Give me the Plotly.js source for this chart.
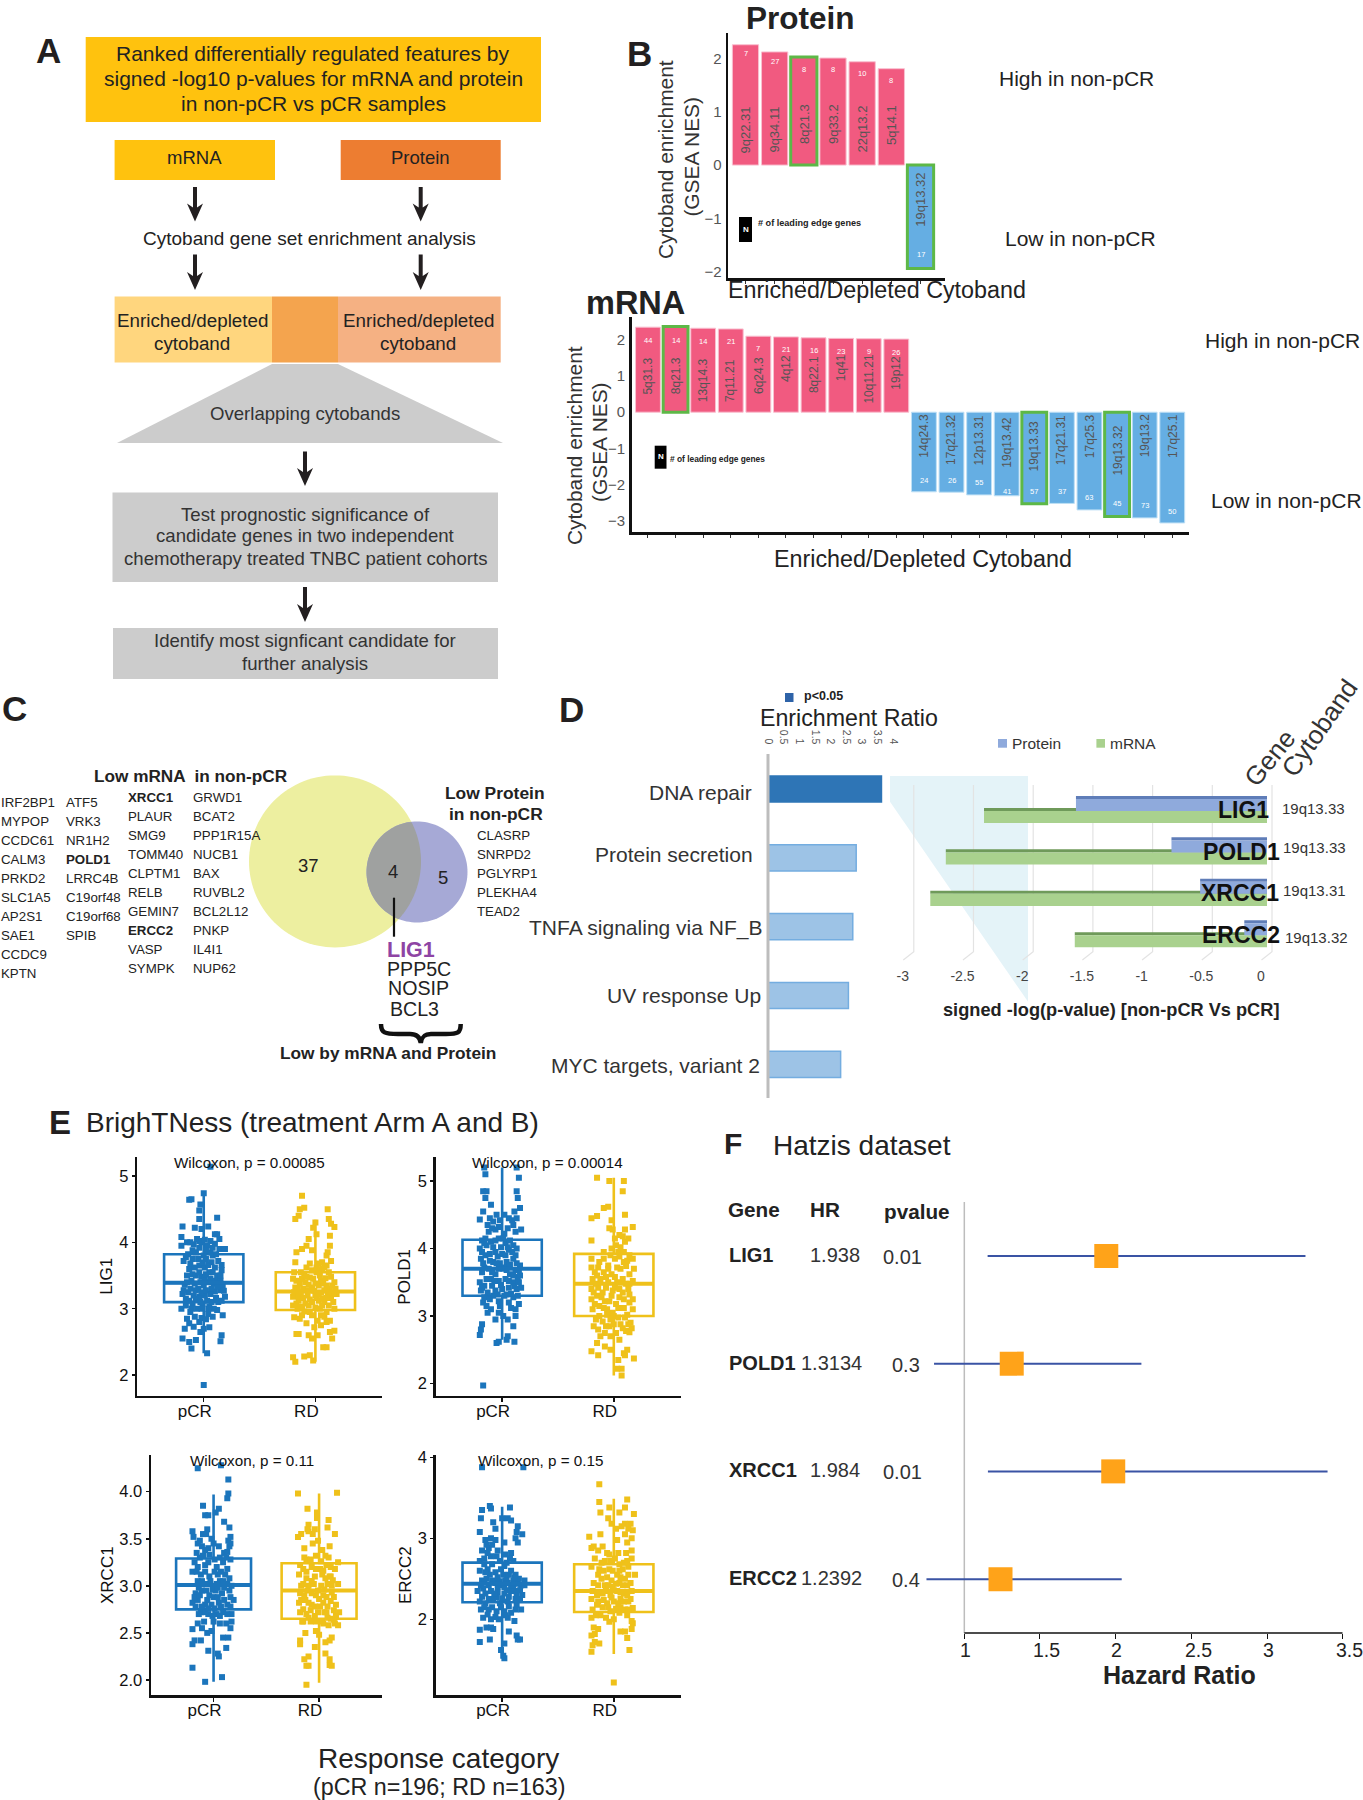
<!DOCTYPE html>
<html><head><meta charset="utf-8">
<script src="https://cdn.plot.ly/plotly-3.0.1.min.js"></script>
<style>html,body{margin:0;padding:0;background:#fff}</style></head>
<body><div id="chart" style="width:1363px;height:1800px"></div>
<script>
// ---------- Panel B data ----------
const proteinBands=["9q22.31","9q34.11","8q21.3","9q33.2","22q13.2","5q14.1","19q13.32"];
const proteinNES=[2.26,2.125,2.03,2.01,1.94,1.81,-1.94];
const proteinEdge=[7,27,8,8,10,8,17];
const proteinLabelY=[0.66,0.66,0.77,0.77,0.67,0.76,-0.66];
const proteinCountY=[2.09,1.95,1.79,1.79,1.72,1.59,-1.67];
const proteinHighlight=["8q21.3","19q13.32"];
const mrnaBands=["5q31.3","8q21.3","13q14.3","7q11.21","6q24.3","4q12","8q22.1","1q41","10q11.21","19p12","14q24.3","17q21.32","12p13.31","19q13.42","19q13.33","17q21.31","17q25.3","19q13.32","19q13.2","17q25.1"];
const mrnaNES=[2.35,2.37,2.32,2.30,2.10,2.08,2.055,2.04,2.03,2.02,-2.2,-2.21,-2.285,-2.31,-2.53,-2.52,-2.70,-2.885,-2.92,-3.06];
const mrnaEdge=[44,14,14,21,7,21,16,23,9,26,24,26,55,41,57,37,63,45,73,50];
const mrnaLabelY=[1.01,1.01,0.89,0.88,1.01,1.22,1.04,1.22,0.92,1.10,-0.65,-0.78,-0.78,-0.85,-0.94,-0.78,-0.65,-1.06,-0.65,-0.65];
const mrnaCountY=[1.98,1.98,1.96,1.95,1.75,1.72,1.71,1.68,1.68,1.66,-1.88,-1.88,-1.95,-2.18,-2.18,-2.18,-2.37,-2.53,-2.59,-2.74];
const mrnaHighlight=["8q21.3","19q13.33","19q13.32"];
// ---------- Panel C data ----------
const geneCol1=["IRF2BP1","MYPOP","CCDC61","CALM3","PRKD2","SLC1A5","AP2S1","SAE1","CCDC9","KPTN"];
const geneCol2=["ATF5","VRK3","NR1H2","<b>POLD1</b>","LRRC4B","C19orf48","C19orf68","SPIB"];
const geneCol3=["<b>XRCC1</b>","PLAUR","SMG9","TOMM40","CLPTM1","RELB","GEMIN7","<b>ERCC2</b>","VASP","SYMPK"];
const geneCol4=["GRWD1","BCAT2","PPP1R15A","NUCB1","BAX","RUVBL2","BCL2L12","PNKP","IL4I1","NUP62"];
const geneColProtein=["CLASRP","SNRPD2","PGLYRP1","PLEKHA4","TEAD2"];
// ---------- Panel D data ----------
const pathways=["DNA repair","Protein secretion","TNFA signaling via NF_B","UV response Up","MYC targets, variant 2"];
const enrichRatio=[3.63,2.82,2.71,2.57,2.32];
const genesD=["LIG1","POLD1","XRCC1","ERCC2"];
const cytobandsD=["19q13.33","19q13.33","19q13.31","19q13.32"];
const proteinLogP=[-1.6,-0.80,-0.56,-0.19];
const mrnaLogP=[-2.37,-2.69,-2.82,-1.61];
// ---------- Panel E data: [jitter offset, expression] ----------
const lig1PCR=[[.06,5.14],[0,1.85],[.03,2.33],[-.19,2.55],[-.13,2.5],[-.07,2.53],[-.11,2.4],[.16,2.6],[.15,2.51],[-.17,2.7],[-.09,2.73],[0,2.7],[.05,2.72],[-.03,2.65],[.17,2.9],[-.15,2.85],[-.12,2.95],[-.08,2.88],[-.02,2.86],[.02,2.84],[.12,2.98],[.09,3.0],[.05,3.03],[-.2,3.0],[-.16,3.05],[-.13,3.12],[-.06,3.0],[-.01,3.08],[.03,3.12],[.13,3.1],[.19,3.18],[-.19,3.22],[-.14,3.25],[-.09,3.2],[-.04,3.18],[.06,3.22],[.1,3.26],[.15,3.28],[-.17,3.36],[-.11,3.42],[-.05,3.3],[0,3.35],[.04,3.4],[.09,3.38],[.17,3.35],[-.07,3.5],[-.02,3.48],[.05,3.55],[.12,3.5],[.16,3.58],[-.13,3.6],[-.18,3.72],[-.1,3.75],[-.04,3.65],[.01,3.62],[.07,3.7],[.13,3.72],[-.14,3.82],[-.07,3.85],[0,3.8],[.06,3.85],[.14,3.9],[.19,3.9],[-.2,3.95],[-.15,4.0],[-.09,3.97],[-.04,4.02],[.03,3.95],[.1,3.98],[.14,4.05],[-.2,4.08],[-.06,4.05],[-.02,4.0],[.1,4.12],[.12,4.12],[-.19,4.24],[-.08,4.22],[-.02,4.2],[.04,4.24],[.12,4.37],[-.04,4.35],[-.04,4.48],[-.03,4.57],[-.13,4.64],[-.11,4.65],[0,4.74]];
const lig1PCRCore=[[-.16,3.15],[-.1,3.08],[-.07,3.15],[-.02,3.0],[.01,3.2],[.07,3.1],[.11,3.16],[.16,3.12],[-.18,3.28],[-.12,3.3],[-.07,3.28],[-.02,3.25],[.02,3.28],[.07,3.3],[.12,3.33],[.18,3.27],[-.15,3.4],[-.08,3.38],[-.03,3.4],[.01,3.45],[.06,3.45],[.11,3.42],[.15,3.42],[-.15,3.5],[-.1,3.52],[-.04,3.55],[.02,3.52],[.08,3.55],[.15,3.5],[-.08,3.62],[-.01,3.7],[.04,3.66],[.1,3.62],[.16,3.66],[-.16,3.78],[-.12,3.68],[-.05,3.75],[.02,3.75],[.08,3.8],[.11,3.82],[-.1,3.88],[-.04,3.92],[.02,3.88],[.08,3.92],[-.12,4.0],[.01,4.04],[.06,4.02],[-.03,3.1],[.04,3.0],[-.11,3.0],[-.04,2.8],[.08,2.88],[-.13,2.78],[.04,2.92]];
const lig1RD=[[-.2,2.27],[-.18,2.2],[-.1,2.28],[-.05,2.3],[-.02,2.22],[.07,2.42],[.1,2.42],[-.17,2.62],[-.15,2.62],[-.06,2.6],[-.03,2.55],[.02,2.6],[.15,2.55],[.17,2.67],[-.19,2.87],[-.14,2.85],[-.08,2.78],[-.01,2.72],[.05,2.75],[.1,2.8],[.13,2.65],[-.2,3.05],[-.16,3.0],[-.1,2.96],[-.03,2.9],[.04,3.0],[.1,2.95],[.17,3.0],[-.2,3.18],[-.15,3.12],[-.09,3.08],[-.03,3.1],[.03,3.12],[.08,3.1],[.14,3.16],[-.18,3.32],[-.13,3.25],[-.07,3.2],[0,3.2],[.05,3.24],[.11,3.22],[.19,3.22],[-.2,3.45],[-.14,3.38],[-.09,3.4],[-.03,3.32],[.03,3.35],[.07,3.38],[.13,3.3],[.17,3.4],[-.19,3.55],[-.1,3.5],[-.05,3.47],[.01,3.55],[.06,3.6],[.12,3.55],[-.18,3.7],[-.08,3.62],[.03,3.68],[.1,3.65],[.14,3.72],[-.17,3.85],[-.12,3.9],[-.08,3.95],[-.03,3.88],[.11,3.85],[.13,3.95],[.1,3.8],[-.06,4.05],[.01,4.12],[.13,4.1],[-.02,4.22],[0,4.3],[.14,4.28],[.17,4.23],[.12,4.35],[-.18,4.35],[-.15,4.4],[-.14,4.5],[.11,4.5],[-.1,4.52],[-.12,4.7]];
const lig1RDCore=[[-.17,3.08],[-.12,3.03],[-.06,3.05],[0,3.02],[.06,3.05],[.12,3.05],[.16,3.1],[-.19,3.25],[-.15,3.2],[-.11,3.16],[-.05,3.14],[.01,3.16],[.06,3.15],[.1,3.16],[.16,3.22],[-.16,3.3],[-.11,3.3],[-.06,3.28],[-.01,3.27],[.03,3.22],[.08,3.28],[.12,3.25],[.18,3.3],[-.17,3.42],[-.12,3.45],[-.06,3.36],[0,3.38],[.05,3.42],[.1,3.35],[.15,3.35],[-.08,3.48],[-.02,3.45],[.04,3.5],[.09,3.46],[.14,3.48],[-.13,3.55],[-.03,3.58],[.03,3.58],[.08,3.62],[-.05,3.68],[.06,3.7],[.01,3.62],[.05,2.9],[-.05,2.95],[.13,2.82],[.08,2.88],[-.12,2.9],[.02,2.82]];
const pold1PCR=[[-.17,1.97],[-.2,2.72],[-.19,2.8],[-.18,2.88],[-.05,2.6],[-.03,2.62],[.04,2.65],[.11,2.62],[.05,2.7],[.1,2.85],[.05,2.95],[.12,3.0],[-.06,2.95],[-.1,3.1],[-.13,3.05],[-.03,3.05],[.01,3.0],[.15,3.18],[.12,3.1],[-.17,3.2],[-.08,3.3],[-.03,3.22],[.06,3.2],[.1,3.28],[-.19,3.38],[-.13,3.35],[-.06,3.38],[0,3.4],[.04,3.32],[.13,3.4],[-.2,3.5],[-.16,3.45],[-.1,3.55],[-.03,3.52],[.03,3.55],[.1,3.5],[.17,3.42],[-.18,3.65],[-.12,3.7],[-.06,3.62],[.01,3.7],[.07,3.62],[.12,3.68],[.16,3.6],[-.19,3.85],[-.15,3.9],[-.08,3.8],[-.02,3.78],[.04,3.8],[.1,3.85],[.16,3.75],[-.2,4.0],[-.14,4.05],[-.06,3.95],[0,3.92],[.06,3.98],[.12,3.9],[-.18,4.12],[-.1,4.1],[-.03,4.15],[.03,4.08],[.1,4.05],[-.12,4.25],[-.06,4.28],[.02,4.22],[.12,4.25],[.17,4.28],[-.2,4.43],[-.17,4.55],[-.13,4.35],[-.08,4.4],[-.02,4.42],[.06,4.45],[.13,4.45],[.16,4.6],[-.15,4.75],[-.1,4.65],[.11,4.55],[-.17,4.85],[-.14,4.85],[.13,4.85],[.14,4.75],[-.15,5.1],[.15,5.05],[-.16,5.2],[.13,5.2]];
const pold1PCRCore=[[-.16,3.28],[-.11,3.25],[-.04,3.32],[.02,3.3],[.08,3.33],[.14,3.3],[-.18,3.42],[-.09,3.45],[-.01,3.46],[.06,3.42],[.11,3.44],[.15,3.5],[-.14,3.55],[-.07,3.52],[.06,3.52],[.14,3.58],[-.16,3.72],[-.09,3.65],[-.03,3.7],[.04,3.68],[.1,3.6],[.15,3.68],[-.17,3.78],[-.11,3.82],[-.05,3.78],[.02,3.72],[.07,3.76],[.13,3.78],[-.18,3.95],[-.11,3.92],[-.04,3.88],[.03,3.9],[.09,3.95],[-.16,4.08],[-.08,4.02],[-.01,4.02],[.05,4.02],[.13,4.0],[-.15,4.15],[-.06,4.12],[.01,4.15],[.07,4.12],[-.09,4.3],[-.03,4.32],[.05,4.3],[.1,4.35],[-.11,4.45],[-.05,4.5],[.02,4.5],[.09,4.42],[-.02,3.15],[.08,3.12],[-.14,3.15]];
const pold1RD=[[.07,2.12],[.07,2.22],[.03,2.22],[-.2,2.48],[-.14,2.42],[-.08,2.55],[-.03,2.5],[.09,2.45],[.12,2.5],[.18,2.37],[.04,2.35],[-.15,2.6],[-.03,2.7],[.02,2.75],[.1,2.42],[-.18,2.85],[-.14,2.8],[-.08,2.75],[-.04,2.85],[.05,2.65],[.11,2.78],[.16,2.82],[-.16,2.95],[-.1,2.92],[-.06,3.02],[0,3.0],[.06,2.88],[.1,2.98],[.15,2.9],[-.19,3.1],[-.13,3.15],[-.06,3.1],[-.01,3.05],[.04,3.12],[.17,3.1],[-.2,3.25],[-.15,3.3],[-.08,3.22],[-.02,3.3],[.05,3.28],[.17,3.25],[-.2,3.4],[-.14,3.42],[-.1,3.35],[.01,3.42],[.08,3.35],[.13,3.4],[-.19,3.55],[-.12,3.55],[-.05,3.5],[.03,3.5],[.11,3.48],[.17,3.52],[-.2,3.72],[-.17,3.65],[-.09,3.65],[-.02,3.62],[.06,3.7],[.18,3.7],[-.2,3.85],[-.13,3.8],[-.05,3.75],[.01,3.85],[.09,3.8],[.14,3.9],[.04,3.95],[-.09,3.95],[-.02,4.0],[.06,4.02],[.1,4.1],[-.2,4.12],[.01,4.15],[.05,4.2],[.13,4.15],[.1,4.28],[.17,4.32],[-.04,4.3],[-.02,4.42],[-.2,4.45],[-.15,4.48],[-.05,4.62],[-.09,4.6],[.1,4.5],[-.15,5.05],[-.04,5.0],[.09,5.0],[.08,4.85]];
const pold1RDCore=[[-.12,2.7],[-.07,2.85],[0,2.88],[.08,2.82],[.14,2.76],[.13,2.88],[-.13,3.0],[-.03,2.95],[.04,2.98],[.12,3.02],[-.17,3.18],[-.09,3.12],[.02,3.18],[.09,3.12],[.14,3.2],[-.18,3.35],[-.11,3.28],[-.04,3.22],[.09,3.25],[.14,3.32],[-.16,3.48],[-.07,3.42],[-.01,3.38],[.05,3.4],[.14,3.48],[-.15,3.6],[-.07,3.58],[.01,3.58],[.08,3.55],[.14,3.62],[-.14,3.72],[-.05,3.7],[.03,3.72],[.11,3.74],[-.09,3.85],[-.03,3.9],[.05,3.88],[.12,3.82],[.17,3.85],[.02,4.05],[.09,3.95],[.08,4.18],[-.01,4.28]];
const xrcc1PCR=[[-.2,2.13],[-.08,1.98],[.08,2.03],[.05,2.25],[.04,2.28],[-.05,2.31],[.12,2.34],[-.2,2.38],[-.18,2.42],[-.12,2.42],[-.2,2.54],[-.11,2.55],[-.06,2.5],[-.02,2.52],[.09,2.45],[.14,2.45],[.16,2.55],[-.15,2.6],[-.09,2.62],[0,2.62],[.06,2.6],[.12,2.6],[.17,2.62],[-.12,2.72],[-.05,2.7],[.03,2.7],[.09,2.72],[.17,2.7],[-.2,2.82],[-.15,2.85],[-.08,2.8],[-.02,2.8],[.05,2.82],[.13,2.8],[.19,2.85],[-.17,2.92],[-.11,2.95],[-.04,2.9],[.02,2.95],[.08,2.92],[.15,2.95],[-.15,3.05],[-.07,3.02],[.01,3.0],[.06,3.05],[.13,3.02],[-.2,3.15],[-.12,3.12],[-.04,3.1],[.04,3.12],[.11,3.12],[-.18,3.25],[-.13,3.3],[-.08,3.22],[.03,3.2],[.09,3.25],[.16,3.28],[-.16,3.35],[-.11,3.42],[-.05,3.4],[0,3.45],[.05,3.42],[.1,3.35],[-.19,3.52],[-.15,3.45],[-.1,3.55],[-.06,3.6],[.14,3.48],[.16,3.52],[.15,3.62],[-.2,3.58],[-.07,3.55],[.1,3.68],[-.08,3.75],[-.05,3.75],[.02,3.78],[.05,3.82],[-.1,3.85],[.13,3.93],[.14,3.98],[.14,4.13],[-.15,4.25],[.07,4.28]];
const xrcc1PCRCore=[[-.14,2.7],[-.08,2.72],[-.01,2.68],[.06,2.68],[.13,2.7],[-.17,2.78],[-.11,2.78],[-.05,2.76],[.01,2.76],[.07,2.78],[.16,2.78],[-.18,2.88],[-.13,2.9],[-.06,2.85],[0,2.88],[.04,2.88],[.1,2.85],[.16,2.88],[-.14,2.98],[-.07,2.95],[-.01,2.96],[.04,2.98],[.1,2.98],[.17,3.0],[-.11,3.05],[-.03,3.05],[.03,3.02],[.09,3.05],[.15,3.08],[-.16,3.15],[-.08,3.15],[.01,3.15],[.07,3.15],[.13,3.18],[-.15,3.2],[-.05,3.25],[.01,3.28],[.06,3.3],[.12,3.3],[-.1,3.32],[-.04,3.33],[.13,3.36],[.15,3.42],[-.13,3.48],[-.08,3.38],[-.02,3.5],[.16,3.45]];
const xrcc1RD=[[-.12,1.95],[-.1,2.15],[-.14,2.22],[-.1,2.25],[-.12,2.15],[.1,2.16],[.1,2.22],[.06,2.28],[.12,2.15],[-.18,2.38],[-.18,2.42],[-.04,2.35],[.06,2.4],[.1,2.42],[.12,2.45],[-.13,2.5],[-.03,2.52],[0,2.48],[.04,2.6],[-.15,2.62],[-.08,2.62],[.09,2.58],[.15,2.6],[.18,2.58],[-.18,2.72],[-.12,2.7],[-.04,2.68],[.05,2.72],[.11,2.65],[.19,2.72],[-.19,2.82],[-.13,2.85],[-.07,2.8],[.01,2.78],[.08,2.78],[.16,2.8],[-.18,2.92],[-.11,2.95],[-.03,2.9],[.04,2.9],[.12,2.93],[-.15,3.02],[-.07,3.05],[.02,3.0],[.08,3.02],[.18,3.02],[-.19,3.12],[-.12,3.15],[-.04,3.1],[.03,3.12],[.1,3.1],[-.18,3.22],[-.07,3.2],[.01,3.18],[.07,3.22],[.18,3.25],[.15,3.18],[-.12,3.28],[-.03,3.32],[.09,3.3],[.03,3.38],[-.14,3.4],[-.06,3.45],[-.01,3.48],[.1,3.42],[-.2,3.52],[-.17,3.55],[-.06,3.55],[.15,3.55],[.08,3.62],[-.1,3.65],[-.1,3.58],[-.11,3.6],[-.04,3.6],[.09,3.7],[-.02,3.72],[-.02,3.78],[-.11,3.82],[-.2,3.98],[.17,3.99],[-.14,3.3],[.11,3.1]];
const xrcc1RDCore=[[-.16,2.62],[-.1,2.66],[-.03,2.62],[.03,2.62],[.08,2.66],[.14,2.64],[.16,2.68],[-.15,2.75],[-.08,2.74],[-.01,2.72],[.07,2.72],[.14,2.74],[-.17,2.85],[-.1,2.82],[-.04,2.78],[.04,2.82],[.11,2.84],[-.14,2.9],[-.07,2.92],[0,2.86],[.07,2.88],[.14,2.88],[-.17,3.0],[-.1,3.0],[-.01,2.95],[.05,2.96],[.12,3.0],[-.12,3.08],[-.05,3.02],[.06,3.08],[.13,3.06],[-.15,3.18],[-.03,3.18],[.04,3.16],[.11,3.2],[-.08,3.28],[.02,3.26],[.06,3.32]];
const ercc2PCR=[[-.18,3.88],[.19,3.88],[-.18,3.35],[-.11,3.4],[-.1,3.37],[.07,3.38],[.05,3.25],[.08,3.22],[-.19,3.25],[-.08,3.2],[-.06,3.12],[0,3.25],[.14,3.15],[.13,3.08],[.18,3.05],[-.2,3.08],[.12,3.0],[.14,2.95],[-.15,2.98],[-.1,3.0],[-.06,2.98],[.02,2.95],[-.18,2.85],[-.12,2.88],[-.04,2.85],[.03,2.8],[.08,2.82],[-.2,2.72],[-.16,2.75],[-.1,2.78],[-.02,2.72],[.04,2.7],[.1,2.72],[-.2,2.6],[-.13,2.62],[-.06,2.58],[.01,2.55],[.08,2.6],[.12,2.55],[.2,2.48],[-.18,2.48],[-.14,2.5],[-.06,2.45],[-.01,2.42],[.05,2.45],[.1,2.4],[.17,2.42],[-.22,2.35],[-.17,2.38],[-.1,2.35],[-.04,2.33],[.02,2.32],[.08,2.35],[.13,2.3],[-.2,2.22],[-.15,2.2],[-.08,2.25],[-.02,2.2],[.05,2.22],[.16,2.25],[-.19,2.12],[-.12,2.12],[-.05,2.1],[.02,2.1],[.12,2.12],[.17,2.12],[-.17,2.02],[-.1,2.0],[-.03,2.0],[.05,2.02],[.11,1.98],[-.1,1.9],[-.08,1.88],[-.2,1.87],[-.14,1.9],[.06,1.85],[.13,1.8],[.14,1.75],[.16,1.75],[-.11,1.75],[-.2,1.72],[.02,1.7],[-.01,1.62],[.01,1.55],[.02,1.52]];
const ercc2PCRCore=[[-.16,2.15],[-.09,2.15],[-.01,2.15],[.06,2.16],[.13,2.18],[-.18,2.28],[-.12,2.25],[-.05,2.27],[0,2.26],[.06,2.28],[.12,2.25],[.18,2.3],[-.15,2.32],[-.07,2.32],[.04,2.36],[.11,2.35],[.16,2.36],[-.19,2.42],[-.12,2.42],[-.04,2.4],[.02,2.4],[.08,2.42],[.14,2.44],[.2,2.42],[-.16,2.46],[-.09,2.48],[-.02,2.47],[.03,2.48],[.1,2.48],[.15,2.5],[-.11,2.55],[-.04,2.52],[.04,2.52],[.11,2.52],[-.15,2.58],[-.01,2.62],[.06,2.55],[-.09,2.68],[-.16,2.68],[.02,2.66],[-.13,2.82],[-.14,2.92],[-.05,2.78],[-.09,2.92],[.07,2.75],[.03,2.05],[-.06,2.03],[.08,2.08],[-.13,2.06]];
const ercc2RD=[[0,1.22],[-.2,1.6],[-.19,1.68],[.14,1.62],[-.17,1.72],[-.13,1.7],[-.2,1.8],[-.17,1.82],[.12,1.77],[.06,1.85],[.1,1.85],[.16,1.88],[-.18,1.9],[-.14,1.88],[-.04,1.97],[.17,1.95],[.16,1.98],[-.2,2.02],[-.12,2.05],[-.07,2.02],[0,2.0],[.05,2.08],[.12,2.05],[-.19,2.12],[-.1,2.15],[-.03,2.1],[.02,2.13],[.1,2.12],[.17,2.14],[-.2,2.25],[-.14,2.22],[-.06,2.2],[0,2.22],[.06,2.25],[.13,2.22],[-.19,2.35],[-.1,2.32],[-.03,2.3],[.03,2.35],[.09,2.32],[.16,2.35],[-.18,2.45],[-.08,2.42],[-.01,2.4],[.05,2.45],[.12,2.42],[-.14,2.55],[-.06,2.52],[.03,2.55],[.1,2.5],[.19,2.55],[-.2,2.65],[-.13,2.62],[-.04,2.62],[.05,2.6],[.13,2.65],[-.17,2.75],[-.08,2.72],[.01,2.75],[.09,2.7],[.16,2.75],[-.2,2.88],[-.18,2.9],[-.14,2.85],[-.1,2.9],[-.04,2.8],[.11,2.82],[.16,2.85],[-.22,3.02],[-.12,3.05],[.03,2.98],[.12,2.95],[.16,3.0],[.1,3.05],[.17,3.1],[.15,3.18],[.07,3.15],[.02,3.12],[.13,3.12],[.1,3.18],[-.12,3.32],[-.05,3.25],[-.02,3.18],[.18,3.3],[.1,3.38],[.05,3.32],[-.13,3.45],[-.04,3.38],[.12,3.48],[-.13,3.67]];
const ercc2RDCore=[[-.16,2.05],[-.05,2.15],[.06,2.15],[.13,2.12],[-.15,2.18],[-.09,2.24],[-.02,2.27],[.04,2.2],[.09,2.22],[.15,2.25],[-.15,2.3],[-.07,2.35],[0,2.36],[.06,2.33],[.12,2.3],[-.14,2.42],[-.05,2.42],[.02,2.44],[.08,2.42],[.15,2.45],[-.11,2.5],[-.02,2.48],[.06,2.52],[.13,2.55],[-.09,2.6],[-.01,2.6],[.08,2.62],[-.11,2.7],[-.03,2.72],[.05,2.68],[.12,2.72],[-.06,2.82],[.04,2.82]];
// ---------- Panel E summaries: Q1, median, Q3, whisker low, whisker high ----------
const lig1Stats=[[3.10,3.39,3.82,2.33,4.76],[2.98,3.26,3.55,2.2,4.34]];
const pold1Stats=[[3.30,3.70,4.13,2.65,5.2],[3.0,3.48,3.92,2.12,5.05]];
const xrcc1Stats=[[2.75,3.01,3.29,1.98,3.97],[2.65,2.95,3.24,1.97,3.98]];
const ercc2Stats=[[2.21,2.44,2.70,1.52,3.39],[2.09,2.35,2.68,1.57,3.49]];
const responseGroups=["pCR","RD"];
// ---------- Panel F data ----------
const forestGenes=["LIG1","POLD1","XRCC1","ERCC2"];
const forestHR=[1.938,1.3134,1.984,1.2392];
const forestHRText=["1.938","1.3134","1.984","1.2392"];
const forestLow=[1.154,0.80,1.156,0.75];
const forestHigh=[3.254,2.17,3.40,2.04];
const forestP=["0.01","0.3","0.01","0.4"];
const forestTicks=[1,1.5,2,2.5,3,3.5];

// ---------- helpers ----------
const W=1363,H=1800,FONT='"Liberation Sans",Arial,sans-serif';
const X=p=>p/W, Y=p=>1-p/H;
const xd=(a,b)=>[X(a),X(b)], yd=(t,b)=>[Y(b),Y(t)];
const ann=[],shp=[],tr=[];
function T(text,x,y,size,o={}){ann.push({text:o.bold?`<b>${text}</b>`:text,x:X(x),y:Y(y),xref:'paper',yref:'paper',showarrow:false,
  xanchor:o.anchor||'center',yanchor:'middle',textangle:o.angle||0,borderpad:0,font:{family:FONT,size,color:o.color||'#222'}});}
function rect(x0,y0,x1,y1,fill){shp.push({type:'rect',xref:'paper',yref:'paper',x0:X(x0),x1:X(x1),y0:Y(y0),y1:Y(y1),fillcolor:fill,line:{width:0}});}
function poly(pts,fill,o={}){const d=pts.map((p,i)=>(i?'L':'M')+X(p[0]).toFixed(5)+','+Y(p[1]).toFixed(5)).join(' ')+(o.open?'':' Z');
  shp.push({type:'path',xref:'paper',yref:'paper',path:d,fillcolor:o.open?'rgba(0,0,0,0)':fill,line:o.line||{width:0},layer:o.layer||'above'});}
function curve(cmds,line){const d=cmds.map(c=>{let s=c[0];for(let i=1;i<c.length;i+=2){s+=(i>1?' ':'')+X(c[i]).toFixed(5)+','+Y(c[i+1]).toFixed(5);}return s;}).join(' ');
  shp.push({type:'path',xref:'paper',yref:'paper',path:d,line});}
function seg(x0,y0,x1,y1,color,width,layer){shp.push({type:'line',xref:'paper',yref:'paper',x0:X(x0),x1:X(x1),y0:Y(y0),y1:Y(y1),line:{color,width},layer:layer||'above'});}
function arrow(x,y0,y1){poly([[x-2,y0],[x+2,y0],[x+2,y1-14],[x+8,y1-18],[x,y1],[x-8,y1-18],[x-2,y1-14]],'#231F20');}
const layout={width:W,height:H,autosize:false,margin:{l:0,r:0,t:0,b:0,pad:0},paper_bgcolor:'#fff',plot_bgcolor:'rgba(0,0,0,0)',showlegend:false,font:{family:FONT},annotations:ann,shapes:shp,hovermode:false,bargap:0.09};

// ---------- Panel A ----------
T('A',48,50,35,{bold:true,color:'#231F20'});
rect(85.7,37,541,122,'#FFC20E');
["Ranked differentially regulated features by","signed -log10 p-values for mRNA and protein","in non-pCR vs pCR samples"].forEach((s,i)=>T(s,313,[53,78.4,103.5][i],21));
rect(114.6,140,275,180,'#FFC20E');rect(340.7,140,500.7,180,'#ED7D31');
T('mRNA',195,157.7,18.5);T('Protein',420.7,157.7,18.5);
arrow(195,187,221.5);arrow(420.7,187,221.5);
T('Cytoband gene set enrichment analysis',309,238,19);
arrow(195,254.6,290);arrow(420.7,254.6,290);
rect(114.6,296.5,272,362.5,'#FFD67E');rect(272,296.5,338,362.5,'#F4A44E');rect(338,296.5,500.7,362.5,'#F5B183');
T('Enriched/depleted',192,320,18.8);T('cytoband',192,343,18.8);T('Enriched/depleted',418,320,18.8);T('cytoband',418,343,18.8);
poly([[272,364],[338,364],[503,443],[117,443]],'#CCCCCC');
T('Overlapping cytobands',305,414,18.6,{color:'#333'});
arrow(305,451.5,486);
rect(112.5,492.5,498,582,'#CCCCCC');
["Test prognostic significance of","candidate genes in two independent","chemotherapy treated TNBC patient cohorts"].forEach((s,i)=>T(s,305,[514,535,558][i],18.6,{color:'#333'}));
arrow(305,587,622);
rect(113,628,498,679,'#CCCCCC');
T('Identify most signficant candidate for',305,641,18.6,{color:'#333'});T('further analysis',305,664,18.6,{color:'#333'});

// ---------- Panel B ----------
function cyto(xa,ya,bands,vals,edge,labY,cntY,hi,labSize){
  tr.push({type:'bar',x:bands.map((_,i)=>i),y:vals,xaxis:xa,yaxis:ya,width:0.9,
    marker:{color:vals.map(v=>v>0?'#F15A80':'#65AEE3'),line:{color:bands.map((b,i)=>hi.includes(b)?'#5DB847':(vals[i]>0?'#F9C0D0':'#BFE0F5')),width:bands.map(b=>hi.includes(b)?3:1)}}});
  bands.forEach((b,i)=>{
    ann.push({text:b,x:i,y:labY[i],xref:xa,yref:ya,showarrow:false,textangle:-90,font:{family:FONT,size:labSize,color:'#555'}});
    ann.push({text:String(edge[i]),x:i,y:cntY[i],xref:xa,yref:ya,showarrow:false,font:{family:FONT,size:7.5,color:'#fff'}});
  });
}
const cytoAxisX=(d,r,n)=>({domain:d,range:r,showgrid:false,zeroline:false,showline:true,linecolor:'#111',linewidth:2.5,ticks:'outside',ticklen:3,tickcolor:'#333',tickvals:n,showticklabels:false});
const cytoAxisY=(d,r,x)=>({domain:d,range:r,anchor:x,showgrid:false,zeroline:false,showline:true,linecolor:'#111',linewidth:2.5,ticks:'',tickvals:[-3,-2,-1,0,1,2].filter(v=>v>=r[0]),ticktext:[-3,-2,-1,0,1,2].filter(v=>v>=r[0]).map(v=>v<0?'\u2212'+(-v):''+v),tickfont:{family:FONT,size:15,color:'#555'},ticklabelstandoff:1});
layout.xaxis=Object.assign(cytoAxisX(xd(728,945),[-0.6,6.84],proteinBands.map((_,i)=>i)),{anchor:'y'});
layout.yaxis=cytoAxisY(yd(33,278),[-2.12,2.48],'x');
layout.xaxis2=Object.assign(cytoAxisX(xd(631.7,1188.8),[-0.59,19.6],mrnaBands.map((_,i)=>i)),{anchor:'y2'});
layout.yaxis2=cytoAxisY(yd(317,532),[-3.31,2.63],'x2');
cyto('x','y',proteinBands,proteinNES,proteinEdge,proteinLabelY,proteinCountY,proteinHighlight,13);
cyto('x2','y2',mrnaBands,mrnaNES,mrnaEdge,mrnaLabelY,mrnaCountY,mrnaHighlight,12);
T('Protein',800.7,18,31.5,{bold:true});T('mRNA',635,303,32.5,{bold:true});T('B',639,53,35,{bold:true,color:'#231F20'});
T('Cytoband enrichment',665,160,20.9,{angle:-90,color:'#333'});T('(GSEA NES)',691.6,157,20.9,{angle:-90,color:'#333'});
T('Cytoband enrichment',574,446,20.9,{angle:-90,color:'#333'});T('(GSEA NES)',600,442,20.9,{angle:-90,color:'#333'});
T('High in non-pCR',1076,78,21);T('Low in non-pCR',1080,238,21);
T('High in non-pCR',1282,340.7,21);T('Low in non-pCR',1286,500.7,21);
T('Enriched/Depleted Cytoband',877,290,23.3);T('Enriched/Depleted Cytoband',923.5,559.3,23.3);
rect(739,217,752,242,'#000');T('N',745.5,229.5,8,{bold:true,color:'#fff'});T('# of leading edge genes',757,223,9.1,{bold:true,anchor:'left'});
rect(654.7,445.7,666.5,468.7,'#000');T('N',660.6,457,8,{bold:true,color:'#fff'});T('# of leading edge genes',668.5,459,8.4,{bold:true,anchor:'left'});

// ---------- Panel C ----------
T('C',14,708,35,{bold:true,color:'#231F20'});
[[geneCol1,0,802.7],[geneCol2,65,802.7],[geneCol3,127,797.3],[geneCol4,192,797.3],[geneColProtein,476.4,835.7]].forEach(([g,x,y])=>g.forEach((s,i)=>T(s,x,y+i*19,13.3,{anchor:'left',color:'#222'})));
T('Low mRNA  in non-pCR',191,775.7,17.2,{bold:true});T('Low Protein',494.6,793,17.4,{bold:true});T('in non-pCR',496.4,814,17.4,{bold:true});
const bigC={x:335,y:861.4,r:86},smallC={x:417,y:872,r:50.5};
const circ=(c)=>{const p=[];for(let a=0;a<360;a+=3){p.push([c.x+c.r*Math.cos(a*Math.PI/180),c.y+c.r*Math.sin(a*Math.PI/180)]);}return p;};
poly(circ(bigC),'#EDEFA0');poly(circ(smallC),'#A6A9D6');
const inside=(p,c)=>Math.hypot(p[0]-c.x,p[1]-c.y)<c.r;
(function(){const lens=[];for(let a=100;a<=260;a+=2){const p=[smallC.x+smallC.r*Math.cos(a*Math.PI/180),smallC.y+smallC.r*Math.sin(a*Math.PI/180)];if(inside(p,bigC))lens.push(p);}
  for(let a=-80;a<=80;a+=1){const p=[bigC.x+bigC.r*Math.cos(a*Math.PI/180),bigC.y+bigC.r*Math.sin(a*Math.PI/180)];if(inside(p,smallC))lens.push(p);}
  poly(lens,'#9FA1A0');})();
T('37',308,865,18.5);T('4',393,871.7,18.5);T('5',443,877,18.5);
seg(394,897.7,394,936.7,'#111',2.2);
T('LIG1',411.4,950,21.5,{bold:true,color:'#8E44A4'});T('PPP5C',418.6,969,19.6);T('NOSIP',418.6,988,19.6);T('BCL3',414,1009,19.6);
curve([['M',381,1024],['C',381,1033,385,1034,398,1034],['L',410,1034],['C',417,1034,420,1037,420.8,1043],['C',421.6,1037,424,1034,431,1034],['L',446,1034],['C',458,1034,460.7,1033,460.7,1024]],{color:'#111',width:4.5});
T('Low by mRNA and Protein',387.5,1053,17.3,{bold:true});

// ---------- Panel D ----------
T('D',571.5,709,35,{bold:true,color:'#231F20'});
rect(785,693,793.5,702,'#2E63A8');T('p<0.05',802.5,696,12.5,{bold:true,anchor:'left'});
T('Enrichment Ratio',848.7,718,23.2,{color:'#222'});
layout.xaxis3={domain:xd(768.3,893),range:[0,4],side:'top',anchor:'free',position:Y(746),dtick:0.5,tick0:0,tickangle:90,showgrid:false,zeroline:false,showline:false,ticks:'',tickfont:{family:FONT,size:10.5,color:'#555'}};
layout.yaxis3={domain:yd(754.6,1098.8),anchor:'x3',autorange:false,range:[4.5,-0.5],type:'linear',showgrid:false,zeroline:false,showline:false,showticklabels:false,ticks:''};
tr.push({type:'bar',orientation:'h',x:enrichRatio,y:pathways.map((_,i)=>i),xaxis:'x3',yaxis:'y3',width:0.38,marker:{color:enrichRatio.map((_,i)=>i?'#9DC3E6':'#2E75B6'),line:{color:enrichRatio.map((_,i)=>i?'#74ADE0':'#2E75B6'),width:1.5}}});
seg(768,754,768,1098,'#BDBDBD',3);
const pathLabelPx=[[752.6,792.3],[754,854],[763,928],[761.5,995],[760.5,1065.7]];
pathways.forEach((s,i)=>T(s,pathLabelPx[i][0],pathLabelPx[i][1],21,{anchor:'right',color:'#333'}));
poly([[890,776],[1028,776],[1028,1001.7],[890,801.7]],'#E4F3F8',{layer:'below'});
const zeroPx=1267,unitPx=119.4;
layout.xaxis4={domain:xd(zeroPx-3.3*unitPx,zeroPx+0.02*unitPx),range:[-3.3,0.02],anchor:'free',position:Y(966),tickvals:[-3,-2.5,-2,-1.5,-1,-0.5,0],ticktext:['-3','-2.5','-2','-1.5','-1','-0.5','0'],ticklabelshift:-6,showgrid:false,zeroline:false,showline:false,ticks:'',tickfont:{family:FONT,size:14,color:'#444'}};
layout.yaxis4={domain:yd(790.3,956),range:[3.5,-0.5],anchor:'x4',showgrid:false,zeroline:false,showline:false,showticklabels:false,ticks:''};
layout.xaxis4.tickvals.forEach(v=>{const gx=zeroPx+v*unitPx+5;poly([[gx,785],[gx,951.7],[gx-10.5,960]],'none',{open:true,line:{color:'#E3E3E3',width:1.2},layer:'below'});});
const rowIdx=genesD.map((_,i)=>i);
const bar3=(vals,off,wid,col)=>tr.push({type:'bar',orientation:'h',x:vals,y:rowIdx,offset:off,width:wid,xaxis:'x4',yaxis:'y4',marker:{color:col,line:{width:0}}});
bar3(mrnaLogP,-0.075,0.075,'#6F9A5A');
bar3(mrnaLogP,0,0.29,'#A9D18E');
bar3(proteinLogP,-0.365,0.075,'#5F7DB8');
bar3(proteinLogP,-0.29,0.29,'#8FAADC');
T('LIG1',1269.6,810,23,{bold:true,anchor:'right',color:'#111'});T('POLD1',1241.3,851.7,23,{bold:true,color:'#111'});T('XRCC1',1240,893,23,{bold:true,color:'#111'});T('ERCC2',1241.3,935,23,{bold:true,color:'#111'});
[[1313,808],[1314,847],[1314,890],[1316,937.7]].forEach((p,i)=>T(cytobandsD[i],p[0],p[1],15,{color:'#333'}));
rect(998,739,1007,747.7,'#8FAADC');T('Protein',1011,743.3,15.5,{anchor:'left',color:'#333'});
rect(1096.4,739,1105,747.7,'#A9D18E');T('mRNA',1109,743.3,15.5,{anchor:'left',color:'#333'});
T('Gene',1269.7,758,26,{angle:-51,color:'#333'});T('Cytoband',1319.5,728,26,{angle:-55,color:'#333'});
T('signed -log(p-value) [non-pCR Vs pCR]',1111,1010,18.2,{bold:true});

// ---------- Panel E ----------
T('E',60,1122,33,{bold:true,color:'#231F20'});
T('BrighTNess (treatment Arm A and B)',312,1122.7,28);
const BLUE='#1B75BC',YEL='#EFC11A';
function boxPanel(n,cfg){
  const xa='x'+n,ya='y'+n,tv=cfg.ticks;
  layout['xaxis'+n]={domain:xd(cfg.l,cfg.r),range:cfg.xr,anchor:ya,tickvals:[0,1],ticktext:responseGroups,ticklabelshift:-9,ticklabelstandoff:-6,showgrid:false,zeroline:false,showline:true,linecolor:'#111',linewidth:2.5,ticks:'outside',ticklen:4,tickwidth:1.5,tickcolor:'#111',tickfont:{family:FONT,size:17,color:'#111'}};
  layout['yaxis'+n]={domain:yd(cfg.t,cfg.b),range:cfg.yr,anchor:xa,tickvals:tv,ticktext:cfg.text,showgrid:false,zeroline:false,showline:true,linecolor:'#111',linewidth:2.5,ticks:'outside',ticklen:3,tickwidth:1.5,tickcolor:'#111',tickfont:{family:FONT,size:16.5,color:'#111'}};
  [[cfg.a,cfg.stats[0],0,BLUE],[cfg.b2,cfg.stats[1],1,YEL]].forEach(([pts,s,pos,col])=>{
    tr.push({type:'box',x:[pos],q1:[s[0]],median:[s[1]],q3:[s[2]],lowerfence:[s[3]],upperfence:[s[4]],width:0.71,whiskerwidth:0,boxpoints:false,xaxis:xa,yaxis:ya,line:{color:col,width:2.6},fillcolor:'rgba(0,0,0,0)'});
    tr.push({type:'scatter',mode:'markers',x:pts.map(p=>pos+p[0]),y:pts.map(p=>p[1]),xaxis:xa,yaxis:ya,marker:{symbol:'square',size:6,color:col,line:{width:0}}});
    tr.push({type:'scatter',mode:'lines',x:[pos-0.355,pos+0.355],y:[s[1],s[1]],xaxis:xa,yaxis:ya,line:{color:col,width:4}});
  });
  T(cfg.label,cfg.titleX,cfg.titleY,17,{angle:-90,color:'#111'});
  T(cfg.p,cfg.pX,cfg.pY,15.2,{color:'#111'});
}
boxPanel(5,{l:137.3,r:382.4,t:1156.7,b:1395.7,xr:[-0.595,1.6],yr:[1.69,5.29],ticks:[2,3,4,5],text:['2','3','4','5'],a:lig1PCR.concat(lig1PCRCore),b2:lig1RD.concat(lig1RDCore),stats:lig1Stats,label:'LIG1',titleX:107,titleY:1276.7,p:'Wilcoxon, p = 0.00085',pX:249.4,pY:1162});
boxPanel(6,{l:435.7,r:680.8,t:1156.7,b:1395.7,xr:[-0.595,1.6],yr:[1.82,5.36],ticks:[2,3,4,5],text:['2','3','4','5'],a:pold1PCR.concat(pold1PCRCore),b2:pold1RD.concat(pold1RDCore),stats:pold1Stats,label:'POLD1',titleX:405,titleY:1276.7,p:'Wilcoxon, p = 0.00014',pX:547.8,pY:1162});
boxPanel(7,{l:151,r:382.4,t:1455,b:1695,xr:[-0.593,1.6],yr:[1.84,4.39],ticks:[2,2.5,3,3.5,4],text:['2.0','2.5','3.0','3.5','4.0'],a:xrcc1PCR.concat(xrcc1PCRCore),b2:xrcc1RD.concat(xrcc1RDCore),stats:xrcc1Stats,label:'XRCC1',titleX:107,titleY:1575,p:'Wilcoxon, p = 0.11',pX:251.5,pY:1460.7});
boxPanel(8,{l:435.7,r:680.8,t:1455,b:1695,xr:[-0.595,1.6],yr:[1.065,4.03],ticks:[2,3,4],text:['2','3','4'],a:ercc2PCR.concat(ercc2PCRCore),b2:ercc2RD.concat(ercc2RDCore),stats:ercc2Stats,label:'ERCC2',titleX:405,titleY:1575,p:'Wilcoxon, p = 0.15',pX:540,pY:1460.7});
T('Response category',438.5,1758,28);T('(pCR n=196; RD n=163)',439,1787,23.3);

// ---------- Panel F ----------
T('F',733,1143,30,{bold:true,color:'#231F20'});T('Hatzis dataset',861.7,1145,28);
T('Gene',726.5,1209,20.7,{bold:true,anchor:'left'});T('HR',809,1209,20.7,{bold:true,anchor:'left'});T('pvalue',882.5,1211.5,20.7,{bold:true,anchor:'left'});
const rowPx=[1254.8,1363,1470,1578],pPx=[1257,1365,1472,1580],hrX=[809,800,809,800],pX=[881.5,890.5,881.5,890.5];
forestGenes.forEach((g,i)=>{T(g,727.5,rowPx[i],20,{bold:true,anchor:'left'});T(forestHRText[i],hrX[i],rowPx[i],20,{anchor:'left',color:'#333'});T(forestP[i],pX[i],pPx[i],20,{anchor:'left',color:'#333'});});
layout.xaxis9={domain:xd(918.9,1342.7),range:[0.7,3.5],anchor:'y9',tickvals:forestTicks,showticklabels:false,showgrid:false,zeroline:false,showline:false,ticks:'outside',ticklen:5,tickcolor:'#111'};
layout.yaxis9={domain:yd(1202,1633),range:[3.5,-0.5],anchor:'x9',showgrid:false,zeroline:false,showline:false,showticklabels:false,ticks:''};
forestTicks.forEach((v,i)=>ann.push({text:String(v),x:v,y:Y(1650),xref:'x9',yref:'paper',xshift:i%2?7:1,showarrow:false,yanchor:'middle',font:{family:FONT,size:19.5,color:'#222'}}));
shp.push({type:'line',xref:'x9',yref:'paper',x0:1,x1:1,y0:Y(1202),y1:Y(1633),line:{color:'#BDBDBD',width:1.5},layer:'below'});
shp.push({type:'line',xref:'x9',yref:'paper',x0:1,x1:3.5,y0:Y(1633),y1:Y(1633),line:{color:'#111',width:1.5}});
tr.push({type:'scatter',mode:'markers',x:forestHR,y:forestGenes.map((_,i)=>i),xaxis:'x9',yaxis:'y9',
  error_x:{type:'data',symmetric:false,array:forestHigh.map((v,i)=>v-forestHR[i]),arrayminus:forestHR.map((v,i)=>v-forestLow[i]),color:'#3A53A4',thickness:2,width:0},
  marker:{symbol:'square',size:24,color:'#FFA319',line:{width:0}}});
T('Hazard Ratio',1179,1675,25,{bold:true});

Plotly.newPlot('chart',tr,layout,{staticPlot:true,displayModeBar:false});
</script></body></html>
